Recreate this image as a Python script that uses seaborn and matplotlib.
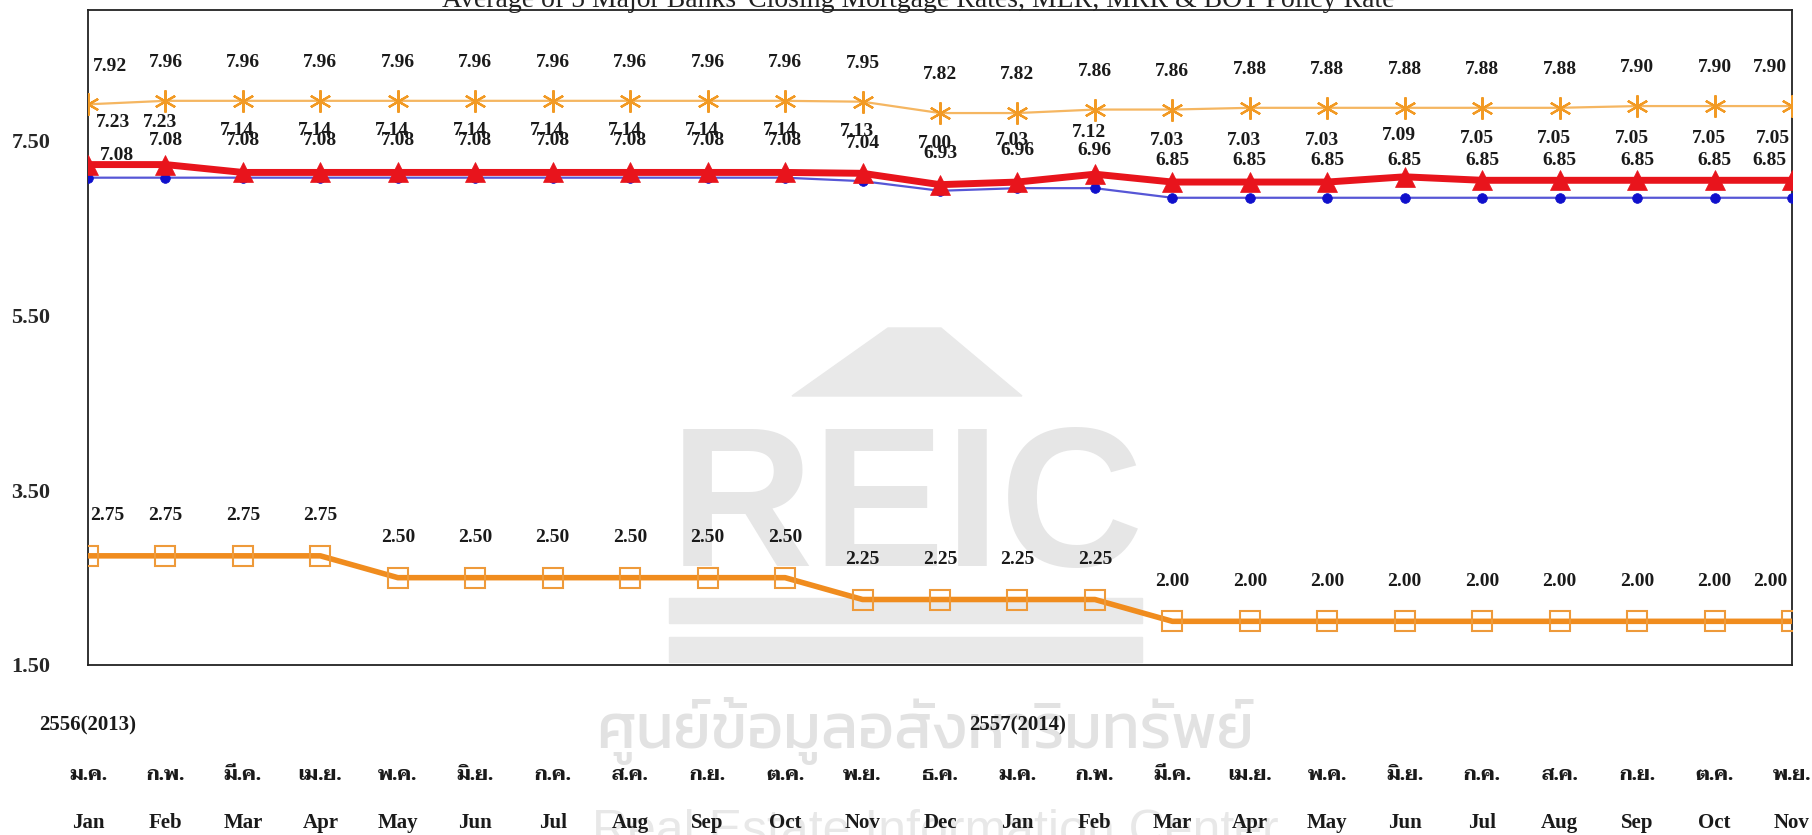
import matplotlib
matplotlib.use("Agg")
import matplotlib.pyplot as plt
from matplotlib.patches import Polygon, Rectangle
import seaborn as sns

# month axis, Jan 2013 .. Nov 2014
months_en = ["Jan", "Feb", "Mar", "Apr", "May", "Jun", "Jul", "Aug", "Sep", "Oct", "Nov", "Dec",
             "Jan", "Feb", "Mar", "Apr", "May", "Jun", "Jul", "Aug", "Sep", "Oct", "Nov"]
months_th = ["ม.ค.", "ก.พ.", "มี.ค.", "เม.ย.", "พ.ค.", "มิ.ย.", "ก.ค.", "ส.ค.", "ก.ย.", "ต.ค.", "พ.ย.", "ธ.ค.",
             "ม.ค.", "ก.พ.", "มี.ค.", "เม.ย.", "พ.ค.", "มิ.ย.", "ก.ค.", "ส.ค.", "ก.ย.", "ต.ค.", "พ.ย."]
year_labels = ["2556(2013)", "2557(2014)"]
year_pos = [0, 12]

# rates (%)
mrr = [7.92, 7.96, 7.96, 7.96, 7.96, 7.96, 7.96, 7.96, 7.96, 7.96, 7.95, 7.82,
       7.82, 7.86, 7.86, 7.88, 7.88, 7.88, 7.88, 7.88, 7.90, 7.90, 7.90]
mor = [7.23, 7.23, 7.14, 7.14, 7.14, 7.14, 7.14, 7.14, 7.14, 7.14, 7.13, 7.00,
       7.03, 7.12, 7.03, 7.03, 7.03, 7.09, 7.05, 7.05, 7.05, 7.05, 7.05]
mlr = [7.08, 7.08, 7.08, 7.08, 7.08, 7.08, 7.08, 7.08, 7.08, 7.08, 7.04, 6.93,
       6.96, 6.96, 6.85, 6.85, 6.85, 6.85, 6.85, 6.85, 6.85, 6.85, 6.85]
policy_rate = [2.75, 2.75, 2.75, 2.75, 2.50, 2.50, 2.50, 2.50, 2.50, 2.50, 2.25, 2.25,
               2.25, 2.25, 2.00, 2.00, 2.00, 2.00, 2.00, 2.00, 2.00, 2.00, 2.00]

title = "Average of 5 Major Banks' Closing Mortgage Rates, MLR, MRR & BOT Policy Rate"

sns.set_theme(style="white")
plt.rcParams["font.family"] = ["Liberation Serif", "DejaVu Sans"]

W, H = 1812, 835
fig = plt.figure(figsize=(W / 100, H / 100), dpi=100)
ax = fig.add_axes([88 / W, 1 - 665 / H, 1704 / W, 655 / H])
ax.patch.set_visible(False)

x = list(range(len(months_en)))

# watermark (REIC logo + name), drawn behind the axes
wm = "#e9e9e9"
def px(xp, yp):
    return (xp / W, 1 - yp / H)
fig.patches.append(Polygon([px(792, 396), px(888, 328), px(941, 328), px(1022, 396)],
                           closed=True, transform=fig.transFigure, color=wm, zorder=-2))
for y0 in (598, 637):
    fig.patches.append(Rectangle(px(669, y0 + 25), (1142 - 669) / W, 25 / H,
                                 transform=fig.transFigure, color=wm, zorder=-2))
fig.text(907 / W, 1 - 566 / H, "REIC", ha="center", va="baseline", fontsize=143,
         family="Liberation Sans", weight="bold", color="#e6e6e6", zorder=-2)
fig.text(925 / W, 1 - 748 / H, "ศูนย์ข้อมูลอสังหาริมทรัพย์", ha="center", va="baseline",
         fontsize=45, family=["Kanit", "DejaVu Sans"], color="#e2e2e2", zorder=-2)
fig.text(935 / W, 1 - 845 / H, "Real Estate Information Center", ha="center", va="baseline",
         fontsize=36, family="Liberation Sans", color="#e8e8e8", zorder=-2)

# series
sns.lineplot(x=x, y=mrr, ax=ax, color="#F5B661", linewidth=1.6, marker=(6, 2, 0),
             markersize=16, mec="#F29A24", mew=1.6, zorder=3)
sns.lineplot(x=x, y=mlr, ax=ax, color="#5656D6", linewidth=1.6, marker="o",
             markersize=7, mfc="#1010CC", mec="#1010CC", mew=0.5, zorder=3)
sns.lineplot(x=x, y=mor, ax=ax, color="#E8141C", linewidth=5, marker="^",
             markersize=14, mfc="#E8141C", mec="#E8141C", mew=0.5, zorder=4)
sns.lineplot(x=x, y=policy_rate, ax=ax, color="#F08C1E", linewidth=4, marker="s",
             markersize=15, mfc="none", mec="#EE9A3A", mew=1.5, zorder=3)

# value labels: (series, dy in pt, dx in pt, first-label shift, last-label shift)
label_specs = [
    (mrr, 27.5, 0, 16, -16),
    (mor, 30, -4, 18, -14),
    (mlr, 27, 0, 21, -16),
    (policy_rate, 29, 0, 14, -16),
]
n = len(x)
for vals, dy, dx, first, last in label_specs:
    for i, v in enumerate(vals):
        ox, oy = dx, dy
        if i == 0:
            ox = first
            if vals is mlr:
                oy = 16
        elif i == n - 1:
            ox = last
        ax.annotate(f"{v:.2f}", (x[i], v), xytext=(ox, oy), textcoords="offset points",
                    ha="center", va="center", fontsize=14, fontweight="bold",
                    color="#1a1a1a", zorder=5)

ax.set_xlim(0, n - 1)
ax.set_ylim(1.5, 9.0)
ax.set_yticks([1.5, 3.5, 5.5, 7.5])
ax.set_yticklabels([f"{t:.2f}" for t in [1.5, 3.5, 5.5, 7.5]])
ax.set_xticks(x)
ax.set_xticklabels([])
ax.tick_params(axis="y", direction="in", length=19, width=1.5, color="#333333",
               pad=27, labelsize=16)
ax.tick_params(axis="x", direction="in", length=23, width=1.2, color="#222222")
for lab in ax.get_yticklabels():
    lab.set_fontweight("bold")
for s in ax.spines.values():
    s.set_color("#222222")
    s.set_linewidth(1.3)

# month rows under the axis
tr = ax.get_xaxis_transform()
for i in x:
    ax.text(x[i], -0.168, months_th[i], transform=tr, ha="center", va="center",
            fontsize=14, fontweight="bold", family=["Taviraj", "DejaVu Sans"], color="#1a1a1a")
    ax.text(x[i], -0.241, months_en[i], transform=tr, ha="center", va="center",
            fontsize=15, fontweight="bold", color="#1a1a1a")
for p, lab in zip(year_pos, year_labels):
    ax.text(p, -0.0916, lab, transform=tr, ha="center", va="center",
            fontsize=15, fontweight="bold", color="#1a1a1a")

fig.text(918 / W, 1 - 7 / H, title, ha="center", va="baseline", fontsize=20, color="#222222")

fig.savefig("out.png", dpi=100)
